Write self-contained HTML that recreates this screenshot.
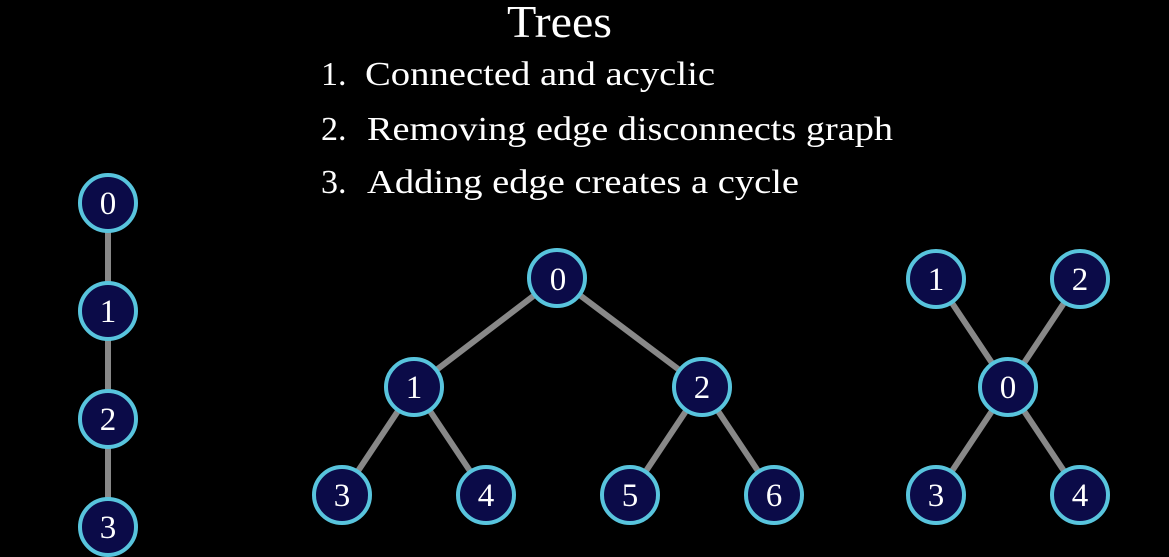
<!DOCTYPE html>
<html>
<head>
<meta charset="utf-8">
<style>
html,body{margin:0;padding:0;background:#000;}
body{width:1169px;height:557px;overflow:hidden;}
svg{display:block;}
text{font-family:"Liberation Serif","DejaVu Serif",serif;fill:#fff;}
</style>
</head>
<body>
<svg width="1169" height="557" viewBox="0 0 1169 557" xmlns="http://www.w3.org/2000/svg">
<rect width="1169" height="557" fill="#000"/>
<text x="507" y="37" font-size="45" textLength="105" lengthAdjust="spacingAndGlyphs">Trees</text>

<text x="321" y="85" font-size="34">1.</text>
<text x="365" y="85" font-size="34" textLength="350" lengthAdjust="spacingAndGlyphs">Connected and acyclic</text>

<text x="321" y="140" font-size="34">2.</text>
<text x="367" y="140" font-size="34" textLength="526" lengthAdjust="spacingAndGlyphs">Removing edge disconnects graph</text>

<text x="321" y="193" font-size="34">3.</text>
<text x="367" y="193" font-size="34" textLength="432" lengthAdjust="spacingAndGlyphs">Adding edge creates a cycle</text>

<g stroke="#888888" stroke-width="6" stroke-linecap="butt">
<line x1="108" y1="203" x2="108" y2="527"/>
<line x1="557" y1="278" x2="414" y2="387"/>
<line x1="557" y1="278" x2="702" y2="387"/>
<line x1="414" y1="387" x2="342" y2="495"/>
<line x1="414" y1="387" x2="486" y2="495"/>
<line x1="702" y1="387" x2="630" y2="495"/>
<line x1="702" y1="387" x2="774" y2="495"/>
<line x1="1008" y1="387" x2="936" y2="279"/>
<line x1="1008" y1="387" x2="1080" y2="279"/>
<line x1="1008" y1="387" x2="936" y2="495"/>
<line x1="1008" y1="387" x2="1080" y2="495"/>
</g>

<g fill="#0b0b48" stroke="#58C4DD" stroke-width="4">
<circle cx="108" cy="203" r="28"/>
<circle cx="108" cy="311" r="28"/>
<circle cx="108" cy="419" r="28"/>
<circle cx="108" cy="527" r="28"/>
<circle cx="557" cy="278" r="28"/>
<circle cx="414" cy="387" r="28"/>
<circle cx="702" cy="387" r="28"/>
<circle cx="342" cy="495" r="28"/>
<circle cx="486" cy="495" r="28"/>
<circle cx="630" cy="495" r="28"/>
<circle cx="774" cy="495" r="28"/>
<circle cx="936" cy="279" r="28"/>
<circle cx="1080" cy="279" r="28"/>
<circle cx="1008" cy="387" r="28"/>
<circle cx="936" cy="495" r="28"/>
<circle cx="1080" cy="495" r="28"/>
</g>

<g font-size="33" text-anchor="middle">
<text x="108" y="214">0</text>
<text x="108" y="322">1</text>
<text x="108" y="430">2</text>
<text x="108" y="538">3</text>
<text x="558" y="290">0</text>
<text x="414" y="398">1</text>
<text x="702" y="398">2</text>
<text x="342" y="506">3</text>
<text x="486" y="506">4</text>
<text x="630" y="506">5</text>
<text x="774" y="506">6</text>
<text x="936" y="290">1</text>
<text x="1080" y="290">2</text>
<text x="1008" y="398">0</text>
<text x="936" y="506">3</text>
<text x="1080" y="506">4</text>
</g>
</svg>
</body>
</html>
